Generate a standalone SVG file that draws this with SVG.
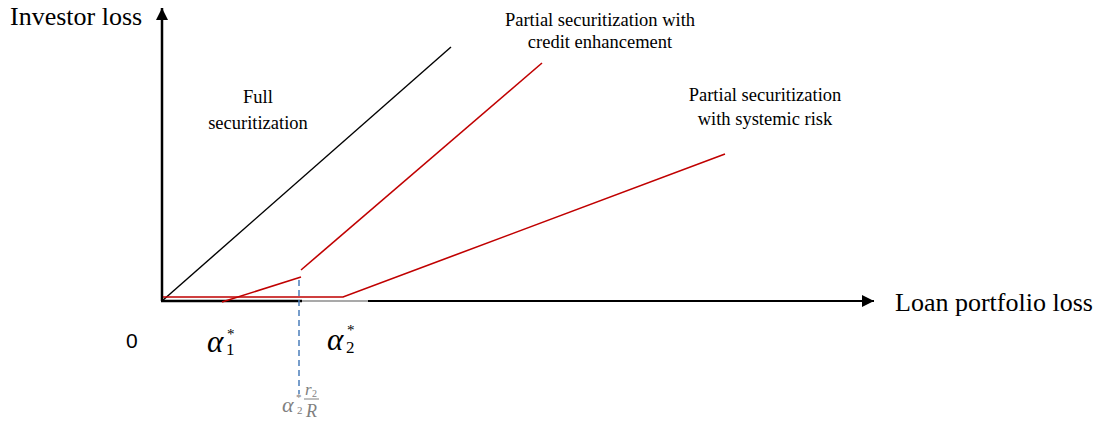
<svg xmlns="http://www.w3.org/2000/svg" width="1105" height="423" viewBox="0 0 1105 423">
<style>
.serif{font-family:"Liberation Serif","Times New Roman",serif;fill:#000}
.lbl{font-size:18.5px;text-anchor:middle}
.ax{font-size:26px}
.it{font-style:italic}
.gr{font-family:"Liberation Serif","Times New Roman",serif;fill:#808080}
.red{stroke:#c00000;stroke-width:1.6;fill:none}
</style>
<defs>
<marker id="arr" viewBox="0 0 10 10" refX="10" refY="5" markerWidth="18" markerHeight="12" markerUnits="userSpaceOnUse" orient="auto">
<path d="M0,0L10,5L0,10z" fill="#000"/>
</marker>
</defs>
<rect width="1105" height="423" fill="#fff"/>
<g id="axes">
<line x1="162" y1="301" x2="162" y2="8" stroke="#000" stroke-width="2.5" marker-end="url(#arr)"/>
<line x1="161" y1="301" x2="302" y2="301" stroke="#000" stroke-width="2.5"/>
<line x1="302" y1="301" x2="368" y2="301" stroke="#555" stroke-width="1.2"/>
<line x1="368" y1="301" x2="874" y2="301" stroke="#000" stroke-width="2" marker-end="url(#arr)"/>
</g>
<g id="connectors">
<line x1="162" y1="301" x2="451" y2="47" stroke="#000" stroke-width="1.4"/>
<polyline class="red" points="163,297 343,297 725,154"/>
<line class="red" x1="222" y1="302" x2="301" y2="277"/>
<line class="red" x1="301" y1="270" x2="542" y2="63"/>
<line x1="299" y1="280" x2="299" y2="394" stroke="#4a7ebb" stroke-width="1.5" stroke-dasharray="6,4"/>
</g>
<g id="labels">
<text class="serif ax" x="10" y="25">Investor loss</text>
<text class="serif ax" x="895" y="311">Loan portfolio loss</text>
<text x="126" y="348" font-family="Liberation Sans,Arial,sans-serif" font-size="21" fill="#000">0</text>
<text class="serif lbl" x="258" y="103">Full</text>
<text class="serif lbl" x="258" y="129">securitization</text>
<text class="serif lbl" x="600" y="26">Partial securitization with</text>
<text class="serif lbl" x="600" y="48">credit enhancement</text>
<text class="serif lbl" x="765" y="101">Partial securitization</text>
<text class="serif lbl" x="765" y="125">with systemic risk</text>
</g>
<g id="alpha1">
<text class="serif it" x="207" y="352" font-size="31">α</text>
<text class="serif" x="226" y="355" font-size="17">1</text>
<text class="serif" x="227" y="339" font-size="15">*</text>
</g>
<g id="alpha2">
<text class="serif it" x="327" y="350" font-size="31">α</text>
<text class="serif" x="346" y="353" font-size="17">2</text>
<text class="serif" x="347" y="335" font-size="15">*</text>
</g>
<g id="alpha2r2R">
<text class="gr" x="282" y="412" font-style="italic" font-size="22">α</text>
<text class="gr" x="297" y="414" font-size="11">2</text>
<text class="gr" x="296" y="401" font-size="11">*</text>
<text class="gr" x="305" y="395" font-style="italic" font-size="17">r</text>
<text class="gr" x="312" y="397" font-size="10">2</text>
<line x1="304" y1="399" x2="319" y2="399" stroke="#808080" stroke-width="1"/>
<text class="gr" x="306" y="417" font-style="italic" font-size="18">R</text>
</g>
</svg>
